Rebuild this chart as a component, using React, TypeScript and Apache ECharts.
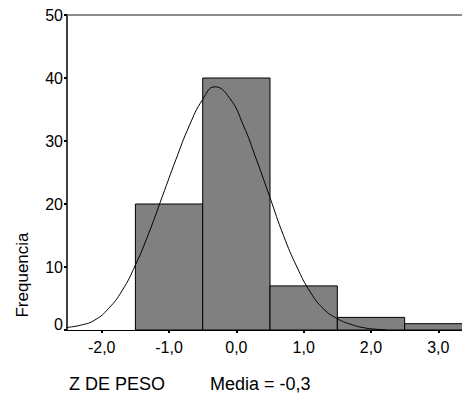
import React, { useEffect, useRef } from "react";
import * as echarts from "echarts";

const binStarts = [-1.5, -0.5, 0.5, 1.5, 2.5];
const binEnds = [-0.5, 0.5, 1.5, 2.5, 3.5];
const binCounts = [20, 40, 7, 2, 1];

const curveX = [-2.52, -2.3, -2.1, -1.9, -1.7, -1.5, -1.3, -1.1, -0.9, -0.7, -0.5, -0.32, -0.1, 0.1, 0.3, 0.5, 0.7, 0.9, 1.1, 1.3, 1.5, 1.7, 1.9, 2.1, 2.23];
const curveY = [0.4, 0.8, 1.6, 3.4, 6.2, 10.3, 15.4, 21.2, 27.0, 32.4, 36.6, 38.6, 36.8, 32.6, 27.0, 21.0, 15.0, 10.0, 6.0, 3.3, 1.8, 0.9, 0.35, 0.1, 0];

const xTicks = [-2, -1, 0, 1, 2, 3];
const xLabel = "Z DE PESO";
const meanLabel = "Media = -0,3";
const yLabel = "Frequencia";

const FONT = "Liberation Sans, Arial, sans-serif";

export default function App() {
  const ref = useRef<HTMLDivElement>(null);
  useEffect(() => {
    document.body.style.margin = "0";
    const chart = echarts.init(ref.current!, null, { renderer: "svg" });
    const bars = binStarts.map((s, i) => [s, binEnds[i], binCounts[i]]);
    const curve = curveX.map((x, i) => [x, curveY[i]]);
    chart.setOption({
      animation: false,
      backgroundColor: "#fff",
      grid: { left: 67, right: 0, top: 15, bottom: 66, containLabel: false },
      xAxis: [
        {
          type: "value",
          min: -2.516,
          max: 3.352,
          splitLine: { show: false },
          axisLine: { show: true, onZero: false, lineStyle: { color: "#000", width: 1 } },
          axisTick: { show: true, length: 3, customValues: xTicks, lineStyle: { color: "#000", width: 2 } },
          axisLabel: {
            customValues: xTicks,
            margin: 9,
            color: "#000",
            fontFamily: FONT,
            fontSize: 16,
            formatter: (v: number) => v.toFixed(1).replace(".", ","),
          },
        },
        {
          type: "value",
          position: "top",
          min: -2.516,
          max: 3.352,
          splitLine: { show: false },
          axisLine: { show: true, onZero: false, lineStyle: { color: "#666", width: 1.5 } },
          axisTick: { show: false },
          axisLabel: { show: false },
        },
      ],
      yAxis: {
        type: "value",
        min: 0,
        max: 50,
        interval: 10,
        splitLine: { show: false },
        axisLine: { show: true, onZero: false, lineStyle: { color: "#000", width: 1.5 } },
        axisTick: { show: true, length: 3, lineStyle: { color: "#000", width: 2 } },
        axisLabel: {
          margin: 4,
          color: "#000",
          fontFamily: FONT,
          fontSize: 16,
          formatter: (v: number) => (v === 0 ? "{z|0}" : String(v)),
          rich: { z: { fontFamily: FONT, fontSize: 16, color: "#000", padding: [0, 0, 12, 0] } },
        },
      },
      series: [
        {
          type: "custom",
          xAxisIndex: 0,
          clip: true,
          data: bars,
          encode: { x: [0, 1], y: 2 },
          renderItem: (params: any, api: any) => {
            const p0 = api.coord([api.value(0), api.value(2)]);
            const p1 = api.coord([api.value(1), 0]);
            return {
              type: "rect",
              shape: { x: p0[0], y: p0[1], width: p1[0] - p0[0], height: p1[1] - p0[1] },
              style: { fill: "#808080", stroke: "#000", lineWidth: 1 },
            };
          },
          z: 2,
        },
        {
          type: "line",
          xAxisIndex: 0,
          data: curve,
          smooth: true,
          showSymbol: false,
          lineStyle: { color: "#000", width: 1 },
          z: 3,
        },
      ],
      graphic: [
        {
          type: "text",
          left: 69,
          top: 375,
          style: { text: xLabel, font: `18px ${FONT}`, fill: "#000" },
        },
        {
          type: "text",
          left: 210,
          top: 375,
          style: { text: meanLabel, font: `18px ${FONT}`, fill: "#000" },
        },
        {
          type: "text",
          x: 22,
          y: 275,
          rotation: Math.PI / 2,
          style: { text: yLabel, font: `17px ${FONT}`, fill: "#000", align: "center", verticalAlign: "middle" },
        },
      ],
    });
    return () => chart.dispose();
  }, []);
  return <div ref={ref} style={{ width: 462, height: 396 }} />;
}
